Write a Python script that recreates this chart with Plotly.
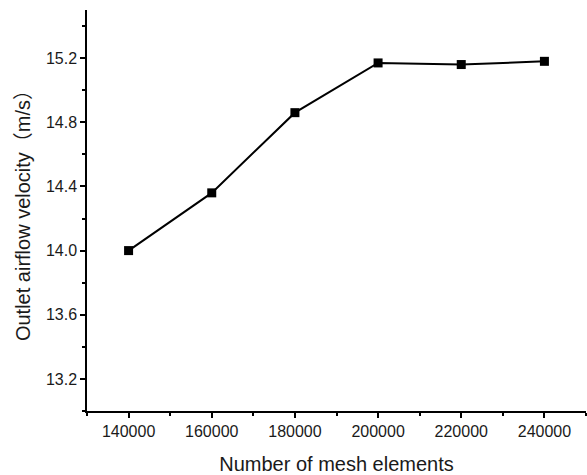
import plotly.graph_objects as go

mesh_elements = [140000, 160000, 180000, 200000, 220000, 240000]
outlet_velocity = [14.00, 14.36, 14.86, 15.17, 15.16, 15.18]

FONT = "Liberation Sans, Arial, Noto Sans CJK SC, sans-serif"

fig = go.Figure()
fig.add_trace(go.Scatter(
    x=mesh_elements, y=outlet_velocity,
    mode="lines+markers",
    line=dict(color="black", width=2),
    marker=dict(symbol="square", size=9, color="black"),
    showlegend=False,
))

fig.update_layout(
    width=587, height=475,
    margin=dict(l=87, r=1, t=10, b=64),
    paper_bgcolor="white", plot_bgcolor="white",
    font=dict(family=FONT, color="#1a1a1a"),
)
fig.update_xaxes(
    range=[130000, 250000],
    tickmode="linear", tick0=140000, dtick=20000, tickformat="d",
    ticks="outside", ticklen=5, tickwidth=1.5, tickcolor="black",
    minor=dict(ticks="outside", ticklen=3, tickwidth=1.5, tickcolor="black", tick0=130000, dtick=10000),
    showline=True, linecolor="black", linewidth=1.5,
    showgrid=False, zeroline=False,
    tickfont=dict(size=16),
    title=dict(text="Number of mesh elements", font=dict(size=20), standoff=18),
)
fig.update_yaxes(
    range=[13.0, 15.5],
    tickmode="linear", tick0=13.2, dtick=0.4, tickformat=".1f",
    ticks="outside", ticklen=5, tickwidth=1.5, tickcolor="black",
    minor=dict(ticks="outside", ticklen=3, tickwidth=1.5, tickcolor="black", tick0=13.0, dtick=0.2),
    showline=True, linecolor="black", linewidth=1.5,
    showgrid=False, zeroline=False,
    tickfont=dict(size=16),
    title=dict(text="Outlet airflow velocity（m/s）", font=dict(size=20), standoff=10),
)

fig.write_html("out.html")
